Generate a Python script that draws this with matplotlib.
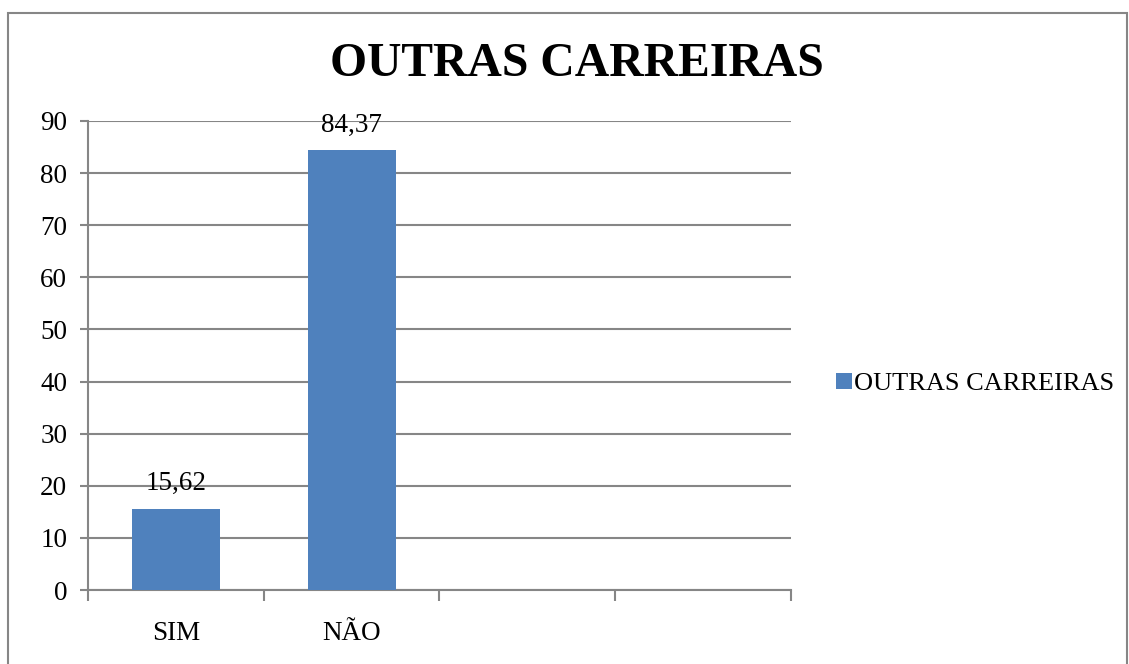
import numpy as np
import matplotlib.pyplot as plt
from matplotlib.patches import Rectangle

categorias = ['SIM', 'NÃO']
valores = [15.62, 84.37]
rotulos = ['15,62', '84,37']
serie = 'OUTRAS CARREIRAS'
n_slots = 4  # o eixo tem 4 posições, só 2 preenchidas

plt.rcParams['font.family'] = ['Liberation Serif', 'DejaVu Serif']

fig = plt.figure(figsize=(11.29, 6.64), dpi=100)
ax = fig.add_axes([88 / 1129, 1 - 590 / 664, (791 - 88) / 1129, (590 - 121) / 664])

cinza = '#868686'
fs = 19.5
x = np.arange(len(categorias))
barras = ax.bar(x, valores, width=0.5, color='#4F81BD', zorder=3, label=serie)
for b, txt in zip(barras, rotulos):
    ax.annotate(txt, (b.get_x() + b.get_width() / 2, b.get_height()),
                xytext=(0, 9), textcoords='offset points',
                ha='center', va='bottom', fontsize=fs)

ax.set_xlim(-0.5, n_slots - 0.5)
ax.set_ylim(0, 90)
ax.set_yticks(np.arange(0, 91, 10))
ax.yaxis.grid(True, color=cinza, lw=1.5, zorder=0)
ax.tick_params(axis='y', length=6, width=1.5, color=cinza, labelsize=fs, pad=9)

ax.set_xticks(np.arange(-0.5, n_slots, 1.0))
ax.set_xticklabels([])
ax.set_xticks(x, minor=True)
ax.set_xticklabels(categorias, minor=True)
ax.tick_params(axis='x', which='major', length=8, width=1.5, color=cinza, direction='out')
ax.tick_params(axis='x', which='minor', length=0, labelsize=fs, pad=22)

for s in ['top', 'right']:
    ax.spines[s].set_visible(False)
for s in ['left', 'bottom']:
    ax.spines[s].set_color(cinza)
    ax.spines[s].set_linewidth(1.5)

fig.text((330 + 823) / 2 / 1129, 1 - 64 / 664, serie, ha='center', va='center',
         fontsize=34.3, fontweight='bold')

fig.legend(loc='center left', bbox_to_anchor=(812 / 1129, 1 - 384 / 664),
           frameon=False, fontsize=19, handlelength=0.6, handleheight=0.6,
           handletextpad=0.1)

fig.patches.append(Rectangle((8 / 1129, -0.01), (1127 - 8) / 1129, 1 - 13 / 664 + 0.01,
                             transform=fig.transFigure, fill=False,
                             edgecolor=cinza, lw=1.5))

fig.savefig('out.png', dpi=100)
